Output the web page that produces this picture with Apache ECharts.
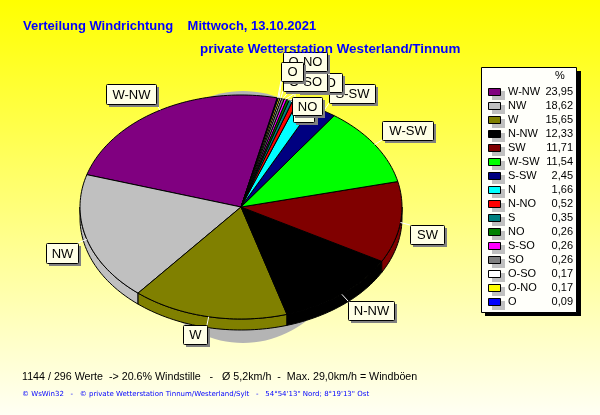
<!DOCTYPE html>
<html><head><meta charset="utf-8">
<style>html,body{margin:0;padding:0;background:#fff}#c{width:600px;height:415px}</style>
<script src="https://cdn.jsdelivr.net/npm/echarts@6/dist/echarts.min.js"></script>
</head><body><div id="c"></div>
<script>
const categories=['W-NW','NW','W','N-NW','SW','W-SW','S-SW','N','N-NO','S','NO','S-SO','SO','O-SO','O-NO','O'];
const shares=[23.95,18.62,15.65,12.33,11.71,11.54,2.45,1.66,0.52,0.35,0.26,0.26,0.26,0.17,0.17,0.09];
const shareLabels=['23,95','18,62','15,65','12,33','11,71','11,54','2,45','1,66','0,52','0,35','0,26','0,26','0,26','0,17','0,17','0,09'];
const colors=['#800080','#c0c0c0','#808000','#000000','#800000','#00ff00','#000080','#00ffff','#ff0000','#008080','#008000','#ff00ff','#808080','#ffffff','#ffff00','#0000ff'];
const titleLine1='Verteilung Windrichtung    Mittwoch, 13.10.2021';
const titleLine2='private Wetterstation Westerland/Tinnum';
const footerStats='1144 / 296 Werte  -> 20.6% Windstille   -   Ø 5,2km/h  -  Max. 29,0km/h = Windböen';
const footerCredit='© WsWin32   -   © private Wetterstation Tinnum/Westerland/Sylt   -   54°54\'13" Nord; 8°19\'13" Ost';
// label box layout [x,y,w,h]
const labelBoxes=[[106,84,50,20],[46,243,32,20],[183,325,24,19],[348,301,46,19],[410,225,34,19],[382,121,51,19],[329,84,46,19],[295,104,20,18],[286,74,40,16],[293,103,21,19],[292,97,30,18],[297,73,45,19],[290,74,30,16],[283,72,44,19],[283,52,44,19],[281,62,22,19]];

const CX=241,CY=207,RX=161,RY=112,DEPTH=11,START=77;
const pt=(deg,dy)=>{const r=deg*Math.PI/180;return [CX+RX*Math.cos(r),CY-RY*Math.sin(r)+(dy||0)];};
const starts=[];let acc=0;shares.forEach(v=>{starts.push(acc);acc+=v;});
const rows=categories.map((c,i)=>[shares[i],starts[i],i]);
const angles=(row)=>{const a=START+row[1]*3.6;return [a,a+row[0]*3.6];};
const arc=(a,b,dy)=>{const n=Math.max(2,Math.ceil((b-a)/1.5)),o=[];for(let i=0;i<=n;i++)o.push(pt(a+(b-a)*i/n,dy));return o;};
const read=(api)=>[api.value(0),api.value(1),api.value(2)];

function wall(p,api){
  const row=read(api);let [a,b]=angles(row);
  const parts=[];
  [[Math.max(a,180),Math.min(b,360)],[Math.max(a,540),Math.min(b,720)]].forEach(([s,e])=>{
    if(e>s){parts.push({type:'polygon',shape:{points:arc(s,e,0).concat(arc(s,e,DEPTH).reverse())},
      style:{fill:colors[row[2]],stroke:'#000',lineWidth:1}});}
  });
  return {type:'group',children:parts};
}
function face(p,api){
  const row=read(api);const [a,b]=angles(row);
  return {type:'polygon',shape:{points:[[CX,CY]].concat(arc(a,b,0))},
    style:{fill:colors[row[2]],stroke:'#000',lineWidth:1}};
}
function label(p,api){
  const row=read(api),i=row[2],bx=labelBoxes[i];const [a,b]=angles(row);
  const s=pt((a+b)/2,0);
  const ex=Math.min(bx[0]+bx[2],Math.max(bx[0],s[0])),ey=Math.min(bx[1]+bx[3],Math.max(bx[1],s[1]));
  return {type:'group',children:[
    {type:'line',shape:{x1:s[0],y1:s[1],x2:ex,y2:ey},style:{stroke:'#fff',lineWidth:1}},
    {type:'rect',shape:{x:bx[0]+3,y:bx[1]+3,width:bx[2],height:bx[3]},style:{fill:'#808080'}},
    {type:'rect',shape:{x:bx[0]+.5,y:bx[1]+.5,width:bx[2],height:bx[3],r:1},style:{fill:'#ffffe6',stroke:'#000',lineWidth:1}},
    {type:'text',style:{x:bx[0]+bx[2]/2+.5,y:bx[1]+bx[3]/2+1,text:categories[i],align:'center',verticalAlign:'middle',
      font:'13px "Liberation Sans"',fill:'#000'}}
  ]};
}
function legendRow(p,api){
  const row=read(api),i=row[2],y=92+14*i;
  return {type:'group',children:[
    {type:'rect',shape:{x:492,y:y-1,width:13,height:9},style:{fill:'#c0c0c0'}},
    {type:'rect',shape:{x:488.5,y:y-3.5,width:12,height:7},style:{fill:colors[i],stroke:'#000',lineWidth:1}},
    {type:'text',style:{x:508,y:y,text:categories[i],align:'left',verticalAlign:'middle',font:'11px "Liberation Sans"',fill:'#000'}},
    {type:'text',style:{x:573,y:y,text:shareLabels[i],align:'right',verticalAlign:'middle',font:'11px "Liberation Sans"',fill:'#000'}}
  ]};
}
const dims={dimensions:['value','start','idx'],source:rows};
const cs=(name,fn,z)=>({type:'custom',name,coordinateSystem:'none',renderItem:fn,datasetIndex:0,z,silent:true,animation:false,clip:false,encode:{tooltip:0}});
const chart=echarts.init(document.getElementById('c'),null,{renderer:'canvas'});
chart.setOption({
  animation:false,
  backgroundColor:{type:'linear',x:0,y:0,x2:0,y2:1,colorStops:[{offset:0,color:'#ffff00'},{offset:1,color:'#fffff4'}]},
  textStyle:{fontFamily:'"Liberation Sans"'},
  title:[
    {text:titleLine1,left:23,top:20,padding:0,textStyle:{fontFamily:'"Liberation Sans"',fontSize:13,fontWeight:'bold',color:'#0000ff'}},
    {text:titleLine2,left:200,top:43,padding:0,textStyle:{fontFamily:'"Liberation Sans"',fontSize:13.4,fontWeight:'bold',color:'#0000ff'}}
  ],
  dataset:dims,
  graphic:[
    {type:'ellipse',z:1,silent:true,shape:{cx:243,cy:217,rx:112,ry:126},style:{fill:'#b4b4b4'}},
    {type:'rect',z:1,silent:true,shape:{x:485,y:71,width:96,height:245},style:{fill:'#000'}},
    {type:'rect',z:2,silent:true,shape:{x:481.5,y:67.5,width:95,height:245},style:{fill:'#fffffa',stroke:'#000',lineWidth:1}},
    {type:'text',z:3,silent:true,style:{x:560,y:76,text:'%',align:'center',verticalAlign:'middle',font:'11px "Liberation Sans"',fill:'#000'}},
    {type:'text',z:3,silent:true,style:{x:22,y:377,text:footerStats,verticalAlign:'middle',font:'10.7px "Liberation Sans"',fill:'#000'}},
    {type:'text',z:3,silent:true,style:{x:22,y:394,text:footerCredit,verticalAlign:'middle',font:'7px "DejaVu Sans"',fill:'#0000ff'}}
  ],
  series:[cs('wall',wall,3),cs('face',face,4),cs('label',label,5),cs('legend',legendRow,6)]
});
</script></body></html>
